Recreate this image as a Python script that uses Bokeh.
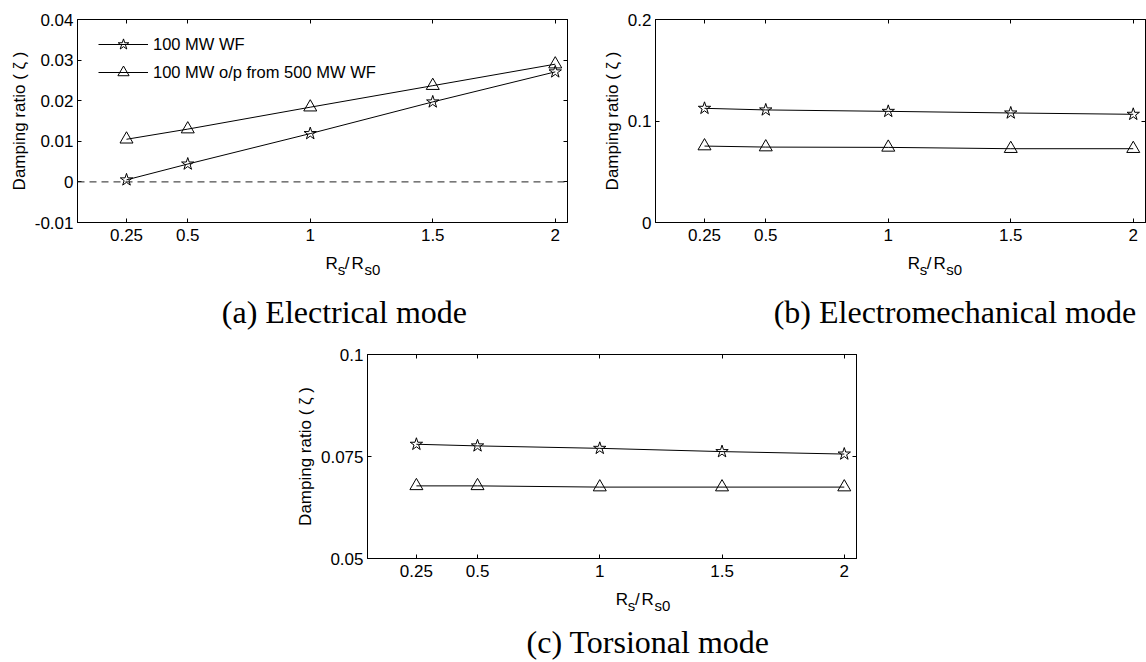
from bokeh.plotting import figure
from bokeh.models import (FixedTicker, CustomJSTickFormatter, LinearAxis,
                          Span, Legend, LegendItem, Range1d, Spacer)
from bokeh.core.properties import value
from bokeh.layouts import column, row
from bokeh.embed import file_html
from bokeh.resources import INLINE

# Stator resistance ratio Rs / Rs0
rs_ratio = [0.25, 0.5, 1.0, 1.5, 2.0]
x_ticks = [0.25, 0.5, 1.0, 1.5, 2.0]
x_tick_labels = ["0.25", "0.5", "1", "1.5", "2"]

series_names = ["100 MW WF", "100 MW o/p from 500 MW WF"]

# Damping ratios per mode
elec_wf100 = [0.0005, 0.0044, 0.0119, 0.0197, 0.0271]
elec_wf500 = [0.0105, 0.0130, 0.0184, 0.0237, 0.0290]
emech_wf100 = [0.1125, 0.1109, 0.1095, 0.1079, 0.1066]
emech_wf500 = [0.0753, 0.0743, 0.0740, 0.0727, 0.0727]
tors_wf100 = [0.0780, 0.0776, 0.0770, 0.0762, 0.0756]
tors_wf500 = [0.0678, 0.0678, 0.0675, 0.0675, 0.0675]

y_ticks_elec = [-0.01, 0.0, 0.01, 0.02, 0.03, 0.04]
y_labels_elec = ["-0.01", "0", "0.01", "0.02", "0.03", "0.04"]
y_ticks_emech = [0.0, 0.1, 0.2]
y_labels_emech = ["0", "0.1", "0.2"]
y_ticks_tors = [0.05, 0.075, 0.1]
y_labels_tors = ["0.05", "0.075", "0.1"]

y_title = "Damping ratio ( \u03b6 )"
captions = ["(a) Electrical mode", "(b) Electromechanical mode", "(c)  Torsional mode"]

SANS = "Liberation Sans"
SERIF = "Liberation Serif"
X_RANGE = (0.05, 2.05)


def tick_formatter(vals, labs):
    return CustomJSTickFormatter(args=dict(vals=vals, labs=labs), code="""
        for (let i = 0; i < vals.length; i++) {
            if (Math.abs(vals[i] - tick) < 1e-9) return labs[i];
        }
        return '';
    """)


def style_axis(ax, ticks, labels, standoff=0, show_labels=True):
    ax.ticker = FixedTicker(ticks=ticks)
    ax.formatter = tick_formatter(ticks, labels)
    ax.axis_line_color = "black"
    ax.axis_line_width = 1
    ax.major_tick_line_color = "black"
    ax.major_tick_in = 4
    ax.major_tick_out = 0
    ax.minor_tick_in = 0
    ax.minor_tick_out = 0
    ax.minor_tick_line_color = None
    ax.major_label_standoff = standoff
    if show_labels:
        ax.major_label_text_font = SANS
        ax.major_label_text_font_size = "17px"
        ax.major_label_text_color = "black"
    else:
        ax.major_label_text_font_size = "0px"
        ax.major_label_text_color = None


def make_panel(width, height, left, right, top, bottom, yr,
               yticks, ylabels, wf100, wf500, zero_line=False, legend=False):
    p = figure(width=width, height=height, x_range=Range1d(*X_RANGE), y_range=Range1d(*yr),
               output_backend="svg", toolbar_location=None,
               min_border_left=left, min_border_right=right,
               min_border_top=top, min_border_bottom=bottom)
    p.grid.visible = False
    p.outline_line_color = "black"
    p.outline_line_width = 1

    style_axis(p.xaxis[0], x_ticks, x_tick_labels, standoff=6)
    style_axis(p.yaxis[0], yticks, ylabels, standoff=4)
    p.yaxis[0].axis_label = y_title
    p.yaxis[0].axis_label_text_font = SANS
    p.yaxis[0].axis_label_text_font_size = "17px"
    p.yaxis[0].axis_label_text_font_style = "normal"
    p.yaxis[0].axis_label_text_color = "black"
    p.yaxis[0].axis_label_standoff = 3

    top_ax = LinearAxis()
    style_axis(top_ax, x_ticks, x_tick_labels, show_labels=False)
    p.add_layout(top_ax, "above")
    right_ax = LinearAxis()
    style_axis(right_ax, yticks, ylabels, show_labels=False)
    p.add_layout(right_ax, "right")

    if zero_line:
        p.add_layout(Span(location=0, dimension="width", line_color="#222222",
                          line_width=1, line_dash="7 5"))

    l1 = p.line(rs_ratio, wf100, line_color="black", line_width=1)
    m1 = p.scatter(rs_ratio, wf100, marker="star", size=13, line_color="black",
                   line_width=1, fill_color=None)
    l2 = p.line(rs_ratio, wf500, line_color="black", line_width=1)
    m2 = p.scatter(rs_ratio, wf500, marker="triangle", size=13, line_color="black",
                   line_width=1, fill_color=None)

    if legend:
        lg = Legend(items=[LegendItem(label=series_names[0], renderers=[l1, m1]),
                           LegendItem(label=series_names[1], renderers=[l2, m2])],
                    location=(21, 136), margin=0, padding=0, spacing=0,
                    glyph_width=50, glyph_height=28, label_height=28,
                    label_standoff=5, label_text_font=SANS,
                    label_text_font_size="16.5px", label_text_color="black",
                    background_fill_alpha=0, border_line_alpha=0)
        p.add_layout(lg)
    return p


def make_text_strip(width, height, x0, y0, caption, cap_x, cap_y):
    """Strip below a panel holding the x-axis title R_s / R_s0 and the caption.
    Coordinates are pixels from the strip's top-left corner."""
    t = figure(width=width, height=height, x_range=Range1d(0, width),
               y_range=Range1d(height, 0), output_backend="svg",
               toolbar_location=None, x_axis_location=None, y_axis_location=None,
               min_border=0, min_border_left=0, min_border_right=0,
               min_border_top=0, min_border_bottom=0)
    t.grid.visible = False
    t.outline_line_color = None

    t.text(x=[x0, x0 + 30.2], y=[y0, y0], text=["R", "R"], text_font=value(SANS),
           text_font_size="17px", text_align="left", text_baseline="middle",
           text_color="black")
    t.text(x=[x0 + 22.5], y=[y0], text=["/"], text_font=value(SANS),
           text_font_size="17px", text_align="left", text_baseline="middle",
           text_color="black")
    t.text(x=[x0 + 14.1, x0 + 45.3], y=[y0 + 6.5, y0 + 6.5], text=["s", "s0"],
           text_font=value(SANS), text_font_size="15px", text_align="left",
           text_baseline="middle", text_color="black")
    t.text(x=[cap_x], y=[cap_y], text=[caption], text_font=value(SERIF),
           text_font_size="32px", text_align="center", text_baseline="middle",
           text_color="black")
    return t


# panel frames: (a) x 77..567, (b) x 655.5..1145, (c) x 367..856
pa = make_panel(570, 250, 77, 3, 19, 28, (-0.01, 0.04),
                y_ticks_elec, y_labels_elec, elec_wf100, elec_wf500,
                zero_line=True, legend=True)
pb = make_panel(576, 250, 85, 1, 19, 28, (0.0, 0.2),
                y_ticks_emech, y_labels_emech, emech_wf100, emech_wf500)
pc = make_panel(573, 256, 80, 4, 24, 28, (0.05, 0.1),
                y_ticks_tors, y_labels_tors, tors_wf100, tors_wf500)

ta = make_text_strip(570, 80, 288.5, 12.5, captions[0], 310.5, 61)
tb = make_text_strip(576, 80, 296.5, 12.5, captions[1], 352, 61)
tc = make_text_strip(573, 76, 291, 12.5, captions[2], 333.5, 55)

layout = column(
    row(column(pa, ta), column(pb, tb)),
    row(Spacer(width=287, height=332), column(pc, tc)),
)

open("out.html", "w").write(file_html(layout, INLINE))
